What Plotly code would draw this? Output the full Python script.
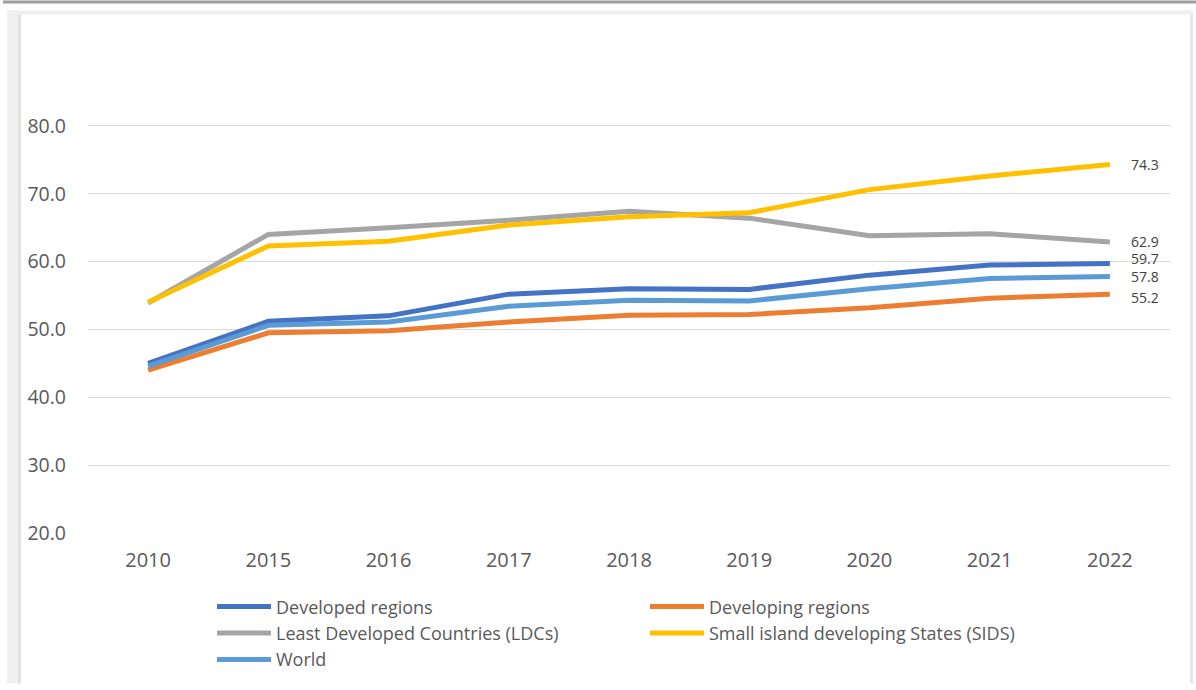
import plotly.graph_objects as go

# Years shown on the category axis
years = ["2010", "2015", "2016", "2017", "2018", "2019", "2020", "2021", "2022"]

# Series values (per cent)
developed = [45.0, 51.2, 52.0, 55.2, 56.0, 55.9, 58.0, 59.5, 59.7]
developing = [44.0, 49.5, 49.8, 51.1, 52.1, 52.2, 53.2, 54.6, 55.2]
ldcs = [53.9, 64.0, 65.0, 66.1, 67.4, 66.4, 63.8, 64.1, 62.9]
sids = [54.0, 62.3, 63.0, 65.4, 66.6, 67.2, 70.6, 72.6, 74.3]
world = [44.6, 50.6, 51.1, 53.4, 54.3, 54.2, 56.0, 57.5, 57.8]

series_names = [
    "Developed regions",
    "Developing regions",
    "Least Developed Countries (LDCs)",
    "Small island developing States (SIDS)",
    "World",
]
series_values = [developed, developing, ldcs, sids, world]
series_colors = ["#4472C4", "#ED7D31", "#A5A5A5", "#FFC000", "#5B9BD5"]
# small vertical nudges so the close end labels stay apart
label_nudge = [5, -3, 0, 0, 0]

y_ticks = [20, 30, 40, 50, 60, 70, 80]

W, H = 1196, 690
L, R, T, B = 88, 26, 58, 152
PW, PH = W - L - R, H - T - B


def px_x(x):
    return (x - L) / PW


def px_y(y):
    return (H - B - y) / PH


fig = go.Figure()
for name, vals, color in zip(series_names, series_values, series_colors):
    fig.add_trace(go.Scatter(
        x=years, y=vals, name=name, mode="lines",
        line=dict(color=color, width=5),
        hoverinfo="x+y+name",
    ))

# Value labels beside the final year of each series
last_idx = len(years) - 1
annotations = []
for vals, nudge in zip(series_values, label_nudge):
    annotations.append(dict(
        x=last_idx, y=vals[-1], xref="x", yref="y",
        text=f"{vals[-1]:.1f}", showarrow=False,
        xanchor="left", yanchor="middle", xshift=20, yshift=nudge,
        borderpad=0,
        font=dict(family="Open Sans", size=14, color="#404040"),
    ))

# Page frame around the chart
frame = [
    dict(x0=3, x1=1196, y0=0, y1=3, color="#9c9c9c"),
    dict(x0=7, x1=1193, y0=10, y1=14, color="#efefef"),
    dict(x0=7, x1=18, y0=10, y1=690, color="#f0f0f0"),
    dict(x0=18, x1=21, y0=14, y1=690, color="#e2e2e2"),
    dict(x0=1190, x1=1193, y0=14, y1=690, color="#e6e6e6"),
]
shapes = []
for f in frame:
    shapes.append(dict(
        type="rect", xref="paper", yref="paper",
        x0=px_x(f["x0"]), x1=px_x(f["x1"]),
        y0=px_y(f["y1"]), y1=px_y(f["y0"]),
        fillcolor=f["color"], line=dict(width=0), layer="below",
    ))

fig.update_layout(
    width=W, height=H,
    margin=dict(l=L, r=R, t=T, b=B),
    paper_bgcolor="white", plot_bgcolor="white",
    font=dict(family="Open Sans", color="#595959"),
    showlegend=True,
    legend=dict(
        orientation="h", x=px_x(212), xanchor="left",
        y=px_y(594), yanchor="top",
        entrywidth=364, entrywidthmode="pixels",
        itemwidth=54,
        font=dict(family="Open Sans", size=18, color="#595959"),
        bgcolor="rgba(0,0,0,0)",
        traceorder="normal",
    ),
    xaxis=dict(
        type="category", range=[-0.5, len(years) - 0.5],
        showgrid=False, zeroline=False, showline=False, ticks="",
        tickfont=dict(family="Open Sans", size=20, color="#595959"),
        ticklabelstandoff=13,
    ),
    yaxis=dict(
        range=[20, 90], tickvals=y_ticks,
        ticktext=[f"{v:.1f}" for v in y_ticks],
        showgrid=True, gridcolor="#d9d9d9", gridwidth=1,
        zeroline=False, showline=False, ticks="",
        tickfont=dict(family="Open Sans", size=19.5, color="#595959"),
        ticklabelstandoff=21,
    ),
    annotations=annotations,
    shapes=shapes,
)

fig.write_html("out.html")
